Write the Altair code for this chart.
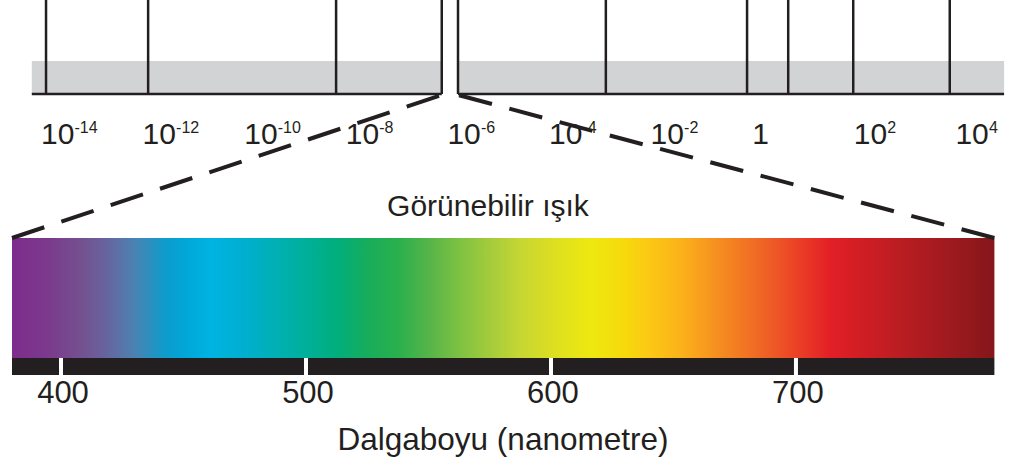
import altair as alt
import pandas as pd

# ---------------- data ----------------
# Top strip: electromagnetic spectrum, positions as log10 exponents
band_exps = [-13.96, -11.95, -8.25, -6.17, -5.85, -2.94, -0.16, 0.65, 1.93, 3.83]
strip_start = [-14.24, -5.85]
strip_end = [-6.17, 4.90]
label_exps = [-14, -12, -10, -8, -6, -4, -2, 0, 2, 4]
label_base = ["10", "10", "10", "10", "10", "10", "10", "1", "10", "10"]
label_sup = ["-14", "-12", "-10", "-8", "-6", "-4", "-2", "", "2", "4"]

# Visible spectrum (nm)
vis_start = [380]
vis_end = [781]
nm_ticks = [400, 500, 600, 700]
nm_tick_labels = ["400", "500", "600", "700"]
stop_nm = [380, 395, 408, 416, 424, 430, 436, 442, 451, 461, 473, 489, 502, 512,
           526, 538, 551, 563, 575, 587, 600, 616, 630, 640, 653, 665, 677, 689,
           702, 714, 726, 742, 763, 781]
stop_colors = ["#7E2C8C", "#7B3A8D", "#745090", "#6A5F9A", "#5B72A7", "#4A82B2",
               "#2E8FBE", "#0F9BCB", "#00A7D8", "#00B3E2", "#00AFD2", "#00B0B2",
               "#00AF95", "#00AE7E", "#19AD5A", "#2BB04D", "#58B548", "#7FC242",
               "#A4CB3C", "#C5D634", "#DBDE22", "#EEE811", "#F6DA0B", "#FCC815",
               "#FBB21A", "#F7961F", "#F27A22", "#EE5E26", "#EA3D26", "#E31F26",
               "#D11E24", "#BB1D22", "#9E1A1E", "#85161A"]

title_top = "Görünebilir ışık"
title_bottom = "Dalgaboyu (nanometre)"

# ---------------- scales ----------------
E_DOM = [-14.866, 5.331]
NM_DOM = [375.1, 793.9]
INK = "#231F20"
FONT = "Liberation Sans"


def ex(field):
    return alt.X(field, type="quantitative",
                 scale=alt.Scale(domain=E_DOM, nice=False, zero=False), axis=None)


def nx(field):
    return alt.X(field, type="quantitative",
                 scale=alt.Scale(domain=NM_DOM, nice=False, zero=False), axis=None)


def e_to_nm(e):
    f = (e - E_DOM[0]) / (E_DOM[1] - E_DOM[0])
    return NM_DOM[0] + f * (NM_DOM[1] - NM_DOM[0])


strip_df = pd.DataFrame({"e": strip_start, "e2": strip_end})
bands_df = pd.DataFrame({"e": band_exps})
labels_df = pd.DataFrame({"e": label_exps, "base": label_base, "sup": label_sup})
vis_df = pd.DataFrame({"nm": vis_start, "nm2": vis_end})
ticks_df = pd.DataFrame({"nm": nm_ticks, "lab": nm_tick_labels})
dash_df = pd.DataFrame({
    "nm": [vis_start[0], vis_end[0]],
    "nm_top": [e_to_nm(strip_end[0]), e_to_nm(strip_start[1])],
})
titles_df = pd.DataFrame({"nm": [580]})

span = vis_end[0] - vis_start[0]
gradient = alt.Gradient(
    gradient="linear",
    stops=[alt.GradientStop(offset=(n - vis_start[0]) / span, color=c)
           for n, c in zip(stop_nm, stop_colors)],
    x1=0, x2=1, y1=0, y2=0,
)

# ---------------- layers ----------------
gray = alt.Chart(strip_df).mark_rect(fill="#D1D3D4").encode(
    x=ex("e"), x2="e2", y=alt.value(61), y2=alt.value(94))

vlines = alt.Chart(bands_df).mark_rule(color=INK, strokeWidth=2.5).encode(
    x=ex("e"), y=alt.value(0), y2=alt.value(94))

baseline = alt.Chart(strip_df).mark_rule(color=INK, strokeWidth=2.5).encode(
    x=ex("e"), x2="e2", y=alt.value(94))

lab_base = alt.Chart(labels_df).mark_text(
    align="left", baseline="alphabetic", fontSize=30, font=FONT, color=INK, dx=-3
).encode(x=ex("e"), y=alt.value(144), text="base")

lab_sup = alt.Chart(labels_df).mark_text(
    align="left", baseline="alphabetic", fontSize=16, font=FONT, color=INK, dx=30.5
).encode(x=ex("e"), y=alt.value(133), text="sup")

spectrum = alt.Chart(vis_df).mark_rect(fill=gradient).encode(
    x=nx("nm"), x2="nm2", y=alt.value(238), y2=alt.value(358))

blackbar = alt.Chart(vis_df).mark_rect(fill=INK).encode(
    x=nx("nm"), x2="nm2", y=alt.value(358), y2=alt.value(375))

wticks = alt.Chart(ticks_df).mark_rule(color="white", strokeWidth=4).encode(
    x=nx("nm"), y=alt.value(358), y2=alt.value(375))

tick_labels = alt.Chart(ticks_df).mark_text(
    align="center", baseline="alphabetic", fontSize=31, font=FONT, color=INK, dx=2
).encode(x=nx("nm"), y=alt.value(403), text="lab")

dashes = alt.Chart(dash_df).mark_rule(
    color=INK, strokeWidth=4, strokeDash=[34, 18]
).encode(x=nx("nm"), x2="nm_top", y=alt.value(238), y2=alt.value(95))

t_top = alt.Chart(titles_df).mark_text(
    align="center", baseline="alphabetic", fontSize=30, font=FONT, color=INK,
    dx=-14, text=title_top
).encode(x=nx("nm"), y=alt.value(216))

t_bottom = alt.Chart(titles_df).mark_text(
    align="center", baseline="alphabetic", fontSize=31.5, font=FONT, color=INK,
    dx=1, text=title_bottom
).encode(x=nx("nm"), y=alt.value(450))

chart = alt.layer(
    gray, vlines, baseline, lab_base, lab_sup,
    spectrum, blackbar, wticks, tick_labels, dashes, t_top, t_bottom
).resolve_scale(x="independent").properties(
    width=1026, height=466, padding=0,
    autosize=alt.AutoSizeParams(type="none"),
    background="white",
).configure_view(stroke=None)

chart.save("out.html", embed_options={"renderer": "svg", "actions": False})
